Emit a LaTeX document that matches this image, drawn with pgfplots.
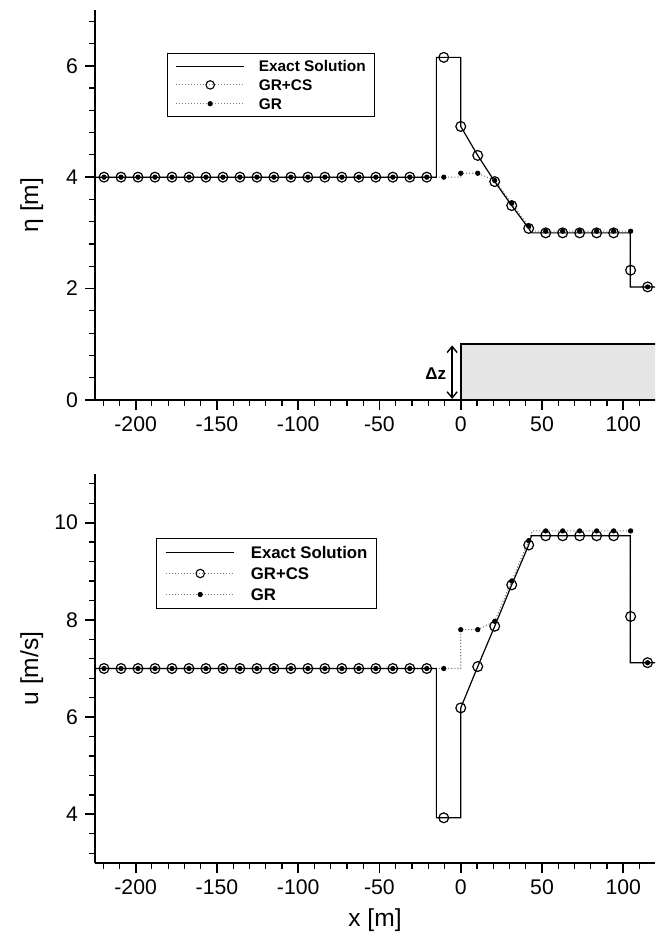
\documentclass[border=0pt]{standalone}
\usepackage{fontspec}
\setmainfont{Liberation Sans}
\usepackage{pgfplots}
\usepackage{pgfplotstable}
\pgfplotsset{compat=1.18}
\usetikzlibrary{arrows.meta}

% cell-centre values: free-surface elevation (eta) and velocity (u)
\pgfplotstableread{
x       etaCS etaGR uCS  uGR
-219.45 4.00  4.00  7.00 7.00
-209.00 4.00  4.00  7.00 7.00
-198.55 4.00  4.00  7.00 7.00
-188.10 4.00  4.00  7.00 7.00
-177.65 4.00  4.00  7.00 7.00
-167.20 4.00  4.00  7.00 7.00
-156.75 4.00  4.00  7.00 7.00
-146.30 4.00  4.00  7.00 7.00
-135.85 4.00  4.00  7.00 7.00
-125.40 4.00  4.00  7.00 7.00
-114.95 4.00  4.00  7.00 7.00
-104.50 4.00  4.00  7.00 7.00
-94.05  4.00  4.00  7.00 7.00
-83.60  4.00  4.00  7.00 7.00
-73.15  4.00  4.00  7.00 7.00
-62.70  4.00  4.00  7.00 7.00
-52.25  4.00  4.00  7.00 7.00
-41.80  4.00  4.00  7.00 7.00
-31.35  4.00  4.00  7.00 7.00
-20.90  4.00  4.00  7.00 7.00
-10.45  6.15  4.00  3.93 7.00
0.00    4.91  4.07  6.19 7.80
10.45   4.39  4.07  7.04 7.80
20.90   3.92  3.94  7.87 7.97
31.35   3.49  3.53  8.72 8.80
41.80   3.08  3.12  9.54 9.63
52.25   3.00  3.03  9.73 9.83
62.70   3.00  3.03  9.73 9.83
73.15   3.00  3.03  9.73 9.83
83.60   3.00  3.03  9.73 9.83
94.05   3.00  3.03  9.73 9.83
104.50  2.33  3.03  8.07 9.83
114.95  2.03  2.03  7.12 7.12
}\cells

\pgfplotsset{
  panel/.style={
    scale only axis, width=280pt,
    xmin=-225, xmax=119.5,
    axis lines*=left,
    axis line style={line width=1pt, black},
    tick align=outside,
    major tick length=5pt, minor tick length=2.8pt,
    every tick/.style={black, line width=0.9pt},
    every minor tick/.style={black, line width=0.6pt},
    xtick={-200,-150,-100,-50,0,50,100},
    xticklabels={-200,-150,-100,-50,0,50,100},
    minor xtick={-220,-210,-190,-180,-170,-160,-140,-130,-120,-110,-90,-80,-70,-60,-40,-30,-20,-10,10,20,30,40,60,70,80,90,110},
    ticklabel style={font=\fontsize{10.6}{12}\selectfont},
    label style={font=\fontsize{12.3}{14}\selectfont},
    ylabel style={at={(axis description cs:-0.113,0.5)}, anchor=center},
    legend cell align=left,
  },
  exact/.style={black, line width=0.6pt},
  grline/.style={gray, densely dotted, line width=0.55pt},
  csmarks/.style={only marks, mark=o, mark size=2.45pt, mark options={black, line width=0.6pt, fill=white}},
  grmarks/.style={only marks, mark=*, mark size=1.1pt, mark options={black}},
  legexact/.style={legend image code/.code={\draw[black, line width=0.6pt] (0pt,0pt) -- (34pt,0pt);}},
  legcs/.style={legend image code/.code={%
    \draw[gray, densely dotted, line width=0.5pt] (0pt,0pt) -- (34pt,0pt);
    \draw[mark repeat=2, mark phase=2, draw=none, mark=o, mark size=2.1pt, mark options={solid, black, line width=0.55pt, fill=white}] plot coordinates {(0pt,0pt) (17pt,0pt) (34pt,0pt)};}},
  leggr/.style={legend image code/.code={%
    \draw[gray, densely dotted, line width=0.5pt] (0pt,0pt) -- (34pt,0pt);
    \draw[mark repeat=2, mark phase=2, draw=none, mark=*, mark size=1pt, mark options={solid, black}] plot coordinates {(0pt,0pt) (17pt,0pt) (34pt,0pt)};}},
}

\begin{document}
\begin{tikzpicture}
\useasboundingbox (0pt,0pt) rectangle (327.5pt,-472pt);

% ---------------- free surface elevation ----------------
\begin{axis}[panel,
  at={(47.5pt,-200pt)}, anchor=south west, height=195pt,
  ymin=0, ymax=7,
  ytick={0,2,4,6}, yticklabels={0,2,4,6},
  minor ytick={0.4,0.8,1.2,1.6,2.4,2.8,3.2,3.6,4.4,4.8,5.2,5.6,6.4,6.8},
  ylabel={η [m]},
  legend style={at={(axis description cs:0.1286,0.89)}, anchor=north west,
    draw=black, line width=0.6pt, fill=white,
    font=\fontsize{7.7}{9}\selectfont\bfseries,
    inner xsep=4pt, inner ysep=3.5pt, row sep=3.8pt,
    nodes={inner sep=0pt, text height=5.6pt, text depth=0pt}},
]
% bottom step
\addplot[draw=black, line width=0.9pt, fill=black!10, forget plot]
  coordinates {(0,0) (0,1) (130,1) (130,0)} \closedcycle;
\draw[{Straight Barb[length=3pt,width=5pt]}-{Straight Barb[length=3pt,width=5pt]}, line width=0.7pt]
  (axis cs:-5.3,0.02) -- (axis cs:-5.3,0.98);
\node[anchor=east, inner sep=0pt, font=\fontsize{8.5}{10}\selectfont\bfseries]
  at (axis cs:-8.8,0.48) {Δz};

\addplot[grline, forget plot] coordinates {
  (-219.45,4) (0,4) (0,4.07) (10.45,4.07) (20.9,3.94) (31.35,3.53) (41.8,3.12)
  (44,3.03) (104.5,3.03) (104.5,2.03) (125,2.03)};
\addplot[exact, forget plot] coordinates {
  (-225,4) (-15,4) (-15,6.15) (0,6.15) (0,4.91) (10.45,4.39) (20.9,3.92)
  (31.35,3.49) (41.8,3.08) (43.5,3.0) (104.3,3.0) (104.3,2.03) (125,2.03)};
\addplot[csmarks, forget plot] table[x=x, y=etaCS] {\cells};
\addplot[grmarks, forget plot] table[x=x, y=etaGR] {\cells};

\addlegendimage{legexact}
\addlegendentry{\hspace*{7pt}\makebox[54pt][l]{Exact Solution}}
\addlegendimage{legcs}
\addlegendentry{\hspace*{7pt}\makebox[54pt][l]{GR+CS}}
\addlegendimage{leggr}
\addlegendentry{\hspace*{7pt}\makebox[54pt][l]{GR}}
\end{axis}

% ---------------- depth-averaged velocity ----------------
\begin{axis}[panel,
  at={(47.5pt,-431.5pt)}, anchor=south west, height=194.5pt,
  ymin=3, ymax=11,
  ytick={4,6,8,10}, yticklabels={4,6,8,10},
  minor ytick={3.2,3.6,4.4,4.8,5.2,5.6,6.4,6.8,7.2,7.6,8.4,8.8,9.2,9.6,10.4,10.8},
  ylabel={u [m/s]},
  xlabel={x [m]},
  legend style={at={(axis description cs:0.109,0.835)}, anchor=north west,
    draw=black, line width=0.6pt, fill=white,
    font=\fontsize{8.4}{10}\selectfont\bfseries,
    inner xsep=4.5pt, inner ysep=3.8pt, row sep=4.4pt,
    nodes={inner sep=0pt, text height=6.1pt, text depth=0pt}},
]
\addplot[grline, forget plot] coordinates {
  (-219.45,7) (0,7) (0,7.8) (10.45,7.8) (20.9,7.97) (31.35,8.8) (41.8,9.63)
  (44,9.83) (104.5,9.83) (104.5,7.12) (125,7.12)};
\addplot[exact, forget plot] coordinates {
  (-225,7) (-15,7) (-15,3.93) (0,3.93) (0,6.19) (10.45,7.04) (20.9,7.87)
  (31.35,8.72) (41.8,9.54) (43.5,9.73) (104.3,9.73) (104.3,7.12) (125,7.12)};
\addplot[csmarks, forget plot] table[x=x, y=uCS] {\cells};
\addplot[grmarks, forget plot] table[x=x, y=uGR] {\cells};

\addlegendimage{legexact}
\addlegendentry{\hspace*{8pt}\makebox[58.5pt][l]{Exact Solution}}
\addlegendimage{legcs}
\addlegendentry{\hspace*{8pt}\makebox[58.5pt][l]{GR+CS}}
\addlegendimage{leggr}
\addlegendentry{\hspace*{8pt}\makebox[58.5pt][l]{GR}}
\end{axis}
\end{tikzpicture}
\end{document}
